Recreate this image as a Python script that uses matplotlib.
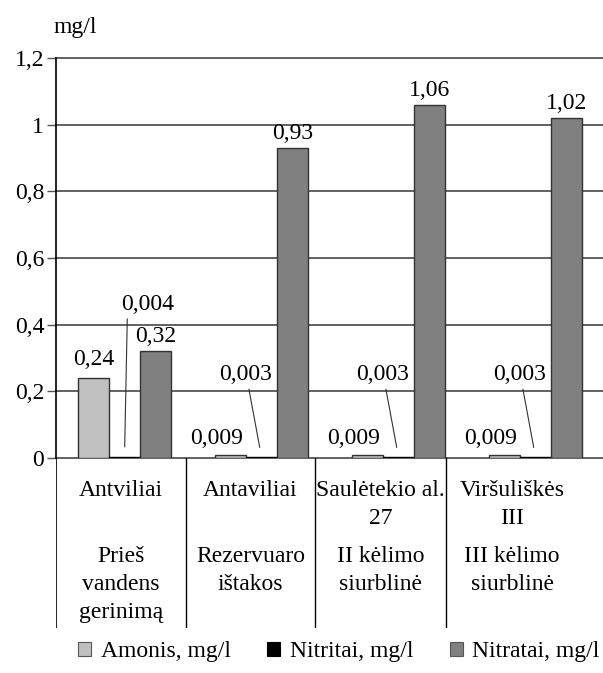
import matplotlib
matplotlib.use("Agg")
import matplotlib.pyplot as plt
from matplotlib.patches import Patch
import numpy as np

plt.rcParams['font.family'] = ['Liberation Serif', 'DejaVu Serif']

# measured concentrations per sampling point, mg/l
amonis = [0.24, 0.009, 0.009, 0.009]
nitritai = [0.004, 0.003, 0.003, 0.003]
nitratai = [0.32, 0.93, 1.06, 1.02]
amonis_txt = ['0,24', '0,009', '0,009', '0,009']
nitritai_txt = ['0,004', '0,003', '0,003', '0,003']
nitratai_txt = ['0,32', '0,93', '1,06', '1,02']

vietos = ['Antviliai', 'Antaviliai', 'Saulėtekio al.\n27', 'Viršuliškės\nIII']
taskai = ['Prieš\nvandens\ngerinimą', 'Rezervuaro\ništakos', 'II kėlimo\nsiurblinė',
          'III kėlimo\nsiurblinė']
yticks = [0, 0.2, 0.4, 0.6, 0.8, 1.0, 1.2]
ytick_txt = ['0', '0,2', '0,4', '0,6', '0,8', '1', '1,2']
serijos = ['Amonis, mg/l', 'Nitritai, mg/l', 'Nitratai, mg/l']

W, H = 603, 673
FS = 17
c_am, c_ni, c_na = '#c0c0c0', '#000000', '#808080'
grid_c = '#555555'

fig = plt.figure(figsize=(W / 100, H / 100), dpi=100)
ax = fig.add_axes([56 / W, (H - 458) / H, 548 / W, 400 / H])

x = np.arange(len(amonis))
bw = 0.226
ax.bar(x - bw, amonis, bw, color=c_am, edgecolor='#333333', lw=1, zorder=3)
ax.bar(x, nitritai, bw, color=c_ni, edgecolor='#000000', lw=1, zorder=3)
ax.bar(x + bw, nitratai, bw, color=c_na, edgecolor='#333333', lw=1, zorder=3)

ax.set_xlim(-0.5, 3.5)
ax.set_ylim(0, 1.2)
ax.set_yticks(yticks)
ax.set_yticklabels(ytick_txt, fontsize=FS)
ax.set_xticks([])
ax.tick_params(axis='y', length=6.5, width=1, color=grid_c, pad=2)
for v in yticks:
    ax.axhline(v, color=grid_c, lw=1.3, zorder=1, clip_on=False)
for s in ['top', 'right', 'bottom']:
    ax.spines[s].set_visible(False)
ax.spines['left'].set_linewidth(1.2)
ax.spines['left'].set_zorder(4)

# value labels
for i in range(len(x)):
    ax.annotate(nitratai_txt[i], (x[i] + bw, nitratai[i]), xytext=(0, 4),
                textcoords='offset pixels', ha='center', va='bottom', fontsize=FS)
    if amonis[i] > 0.1:
        ax.annotate(amonis_txt[i], (x[i] - bw, amonis[i]), xytext=(0, 8),
                    textcoords='offset pixels', ha='center', va='bottom', fontsize=FS)
    else:
        ax.annotate(amonis_txt[i], (x[i] - bw, amonis[i]), xytext=(-14, 6),
                    textcoords='offset pixels', ha='center', va='bottom', fontsize=FS)

for i in range(len(x)):
    if i == 0:
        off, rel = (23, 142), (0.12, 0)
    else:
        off, rel = (-16, 72), (0.55, 0)
    ax.annotate(nitritai_txt[i], (x[i], nitritai[i]), xytext=off,
                textcoords='offset pixels', ha='center', va='bottom', fontsize=FS,
                arrowprops=dict(arrowstyle='-', color='#333333', lw=0.8,
                                shrinkA=1, shrinkB=7, relpos=rel))

fig.text(53 / W, 1 - 27 / H, 'mg/l', fontsize=FS, ha='left', va='center')

# table of sampling points under the chart
tab = fig.add_axes([56 / W, (H - 628) / H, 547 / W, 170 / H])
tab.set_xlim(0, 547)
tab.set_ylim(170, 0)
tab.axis('off')
edges = [0, 130, 259, 390, 522]
tab.plot([0, 0], [0, 170], color='#000000', lw=1.2)
for e in edges[1:-1]:
    tab.plot([e, e], [0, 170], color='#000000', lw=1)
for i in range(4):
    cx = (edges[i] + edges[i + 1]) / 2
    tab.text(cx, 22, vietos[i], ha='center', va='top', fontsize=FS, linespacing=1.45)
    tab.text(cx, 88, taskai[i], ha='center', va='top', fontsize=FS, linespacing=1.45)

handles = [Patch(facecolor=c_am, edgecolor='#555555', lw=0.8),
           Patch(facecolor=c_ni, edgecolor='#000000', lw=0.8),
           Patch(facecolor=c_na, edgecolor='#555555', lw=0.8)]
fig.legend(handles, serijos, loc='center', bbox_to_anchor=(339 / W, 1 - 652 / H),
           ncol=3, frameon=False, fontsize=FS, handlelength=0.55, handleheight=0.55,
           handletextpad=0.4, columnspacing=1.55, borderpad=0, borderaxespad=0)

fig.savefig('out.png', dpi=100)
